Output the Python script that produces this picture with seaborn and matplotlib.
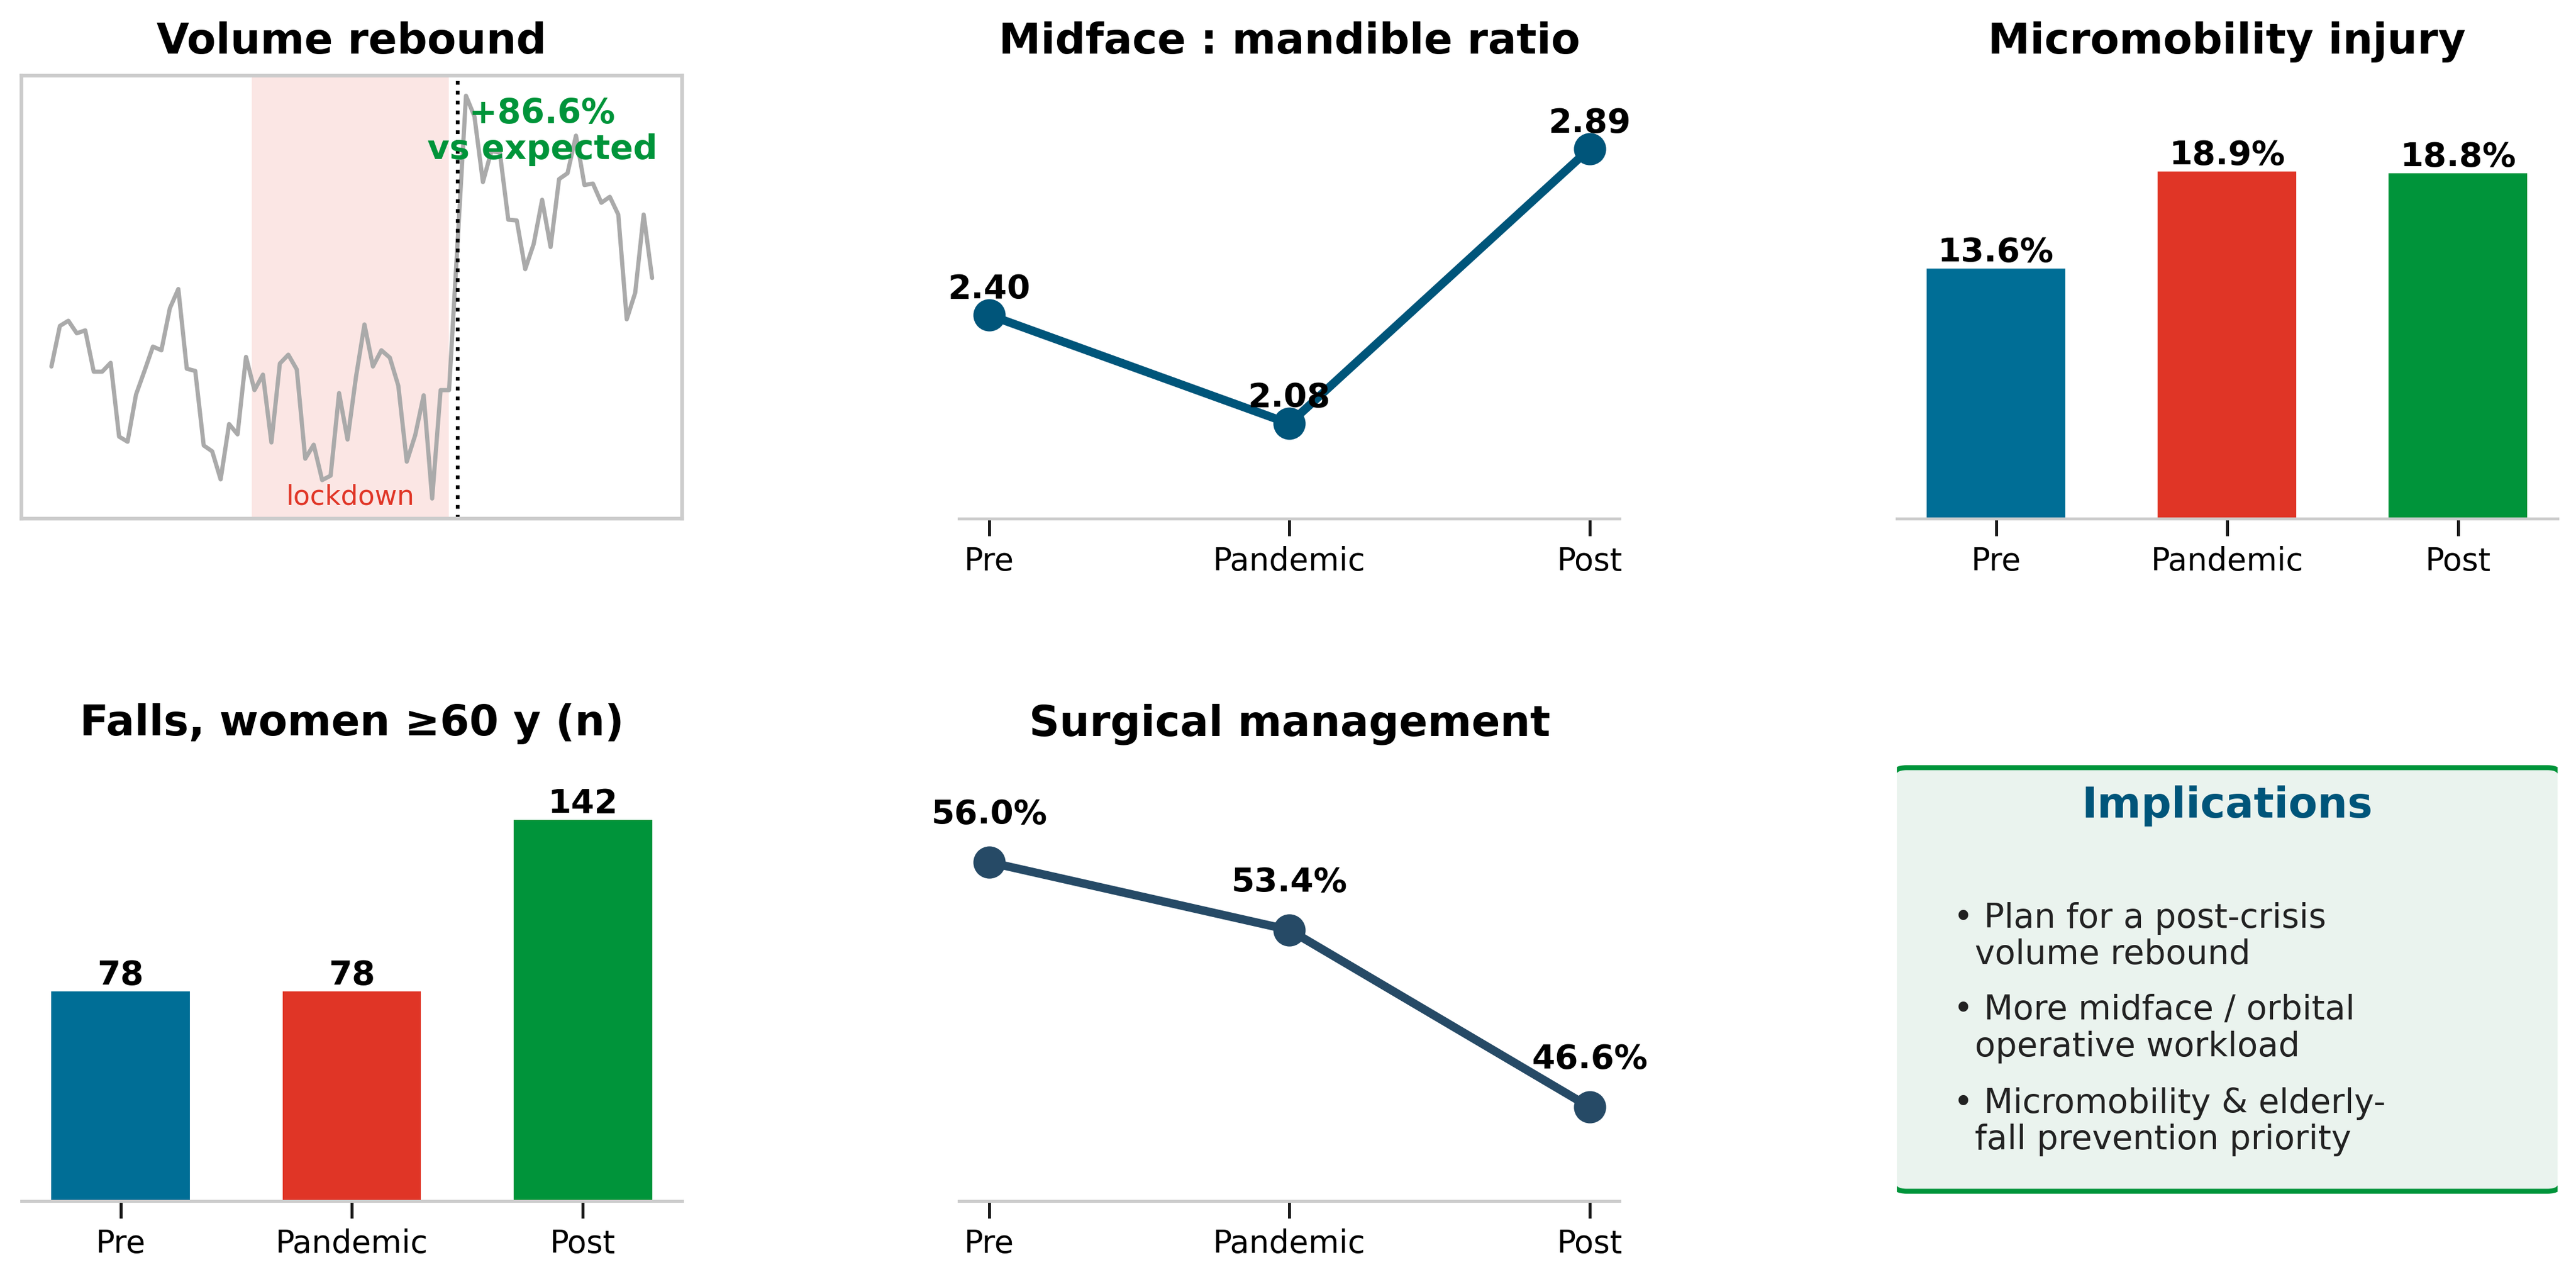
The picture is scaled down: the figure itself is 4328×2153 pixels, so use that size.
import matplotlib
matplotlib.use("Agg")
import matplotlib.pyplot as plt
import matplotlib.transforms as mtransforms
from matplotlib.patches import FancyBboxPatch
import pandas as pd
import seaborn as sns

# ---- data ----
periods = ["Pre", "Pandemic", "Post"]

# monthly case volume (relative units), 72 months
monthly_volume = [
    35.6, 41.1, 41.8, 40.1, 40.5, 34.9, 34.9, 36.1, 26.1, 25.4,
    31.8, 35.0, 38.3, 37.8, 43.5, 46.1, 35.3, 35.0, 24.9, 24.1,
    20.3, 27.8, 26.4, 36.9, 32.4, 34.5, 25.3, 36.0, 37.2, 35.2,
    23.1, 25.0, 20.2, 20.8, 32.0, 25.7, 34.2, 41.3, 35.6, 37.8,
    36.8, 33.0, 22.7, 26.3, 31.7, 17.7, 32.4, 32.4, 52.3, 72.3,
    69.5, 60.6, 64.8, 64.6, 55.5, 55.4, 48.8, 52.2, 58.2, 51.8,
    61.0, 61.8, 66.9, 60.2, 60.4, 57.8, 58.6, 56.2, 42.0, 45.6,
    56.2, 47.6,
]
lockdown_start = 23.7
lockdown_end = 47.0
reopening = 48
rebound_label = "+86.6%\nvs expected"

midface_ratio = [2.40, 2.08, 2.89]
micromobility_pct = [13.6, 18.9, 18.8]
falls_women60 = [78, 78, 142]
surgical_pct = [56.0, 53.4, 46.6]

implications = [
    "\u2022 Plan for a post-crisis\n  volume rebound",
    "\u2022 More midface / orbital\n  operative workload",
    "\u2022 Micromobility & elderly-\n  fall prevention priority",
]

# ---- style ----
BLUE = "#006e96"
RED = "#e03526"
GREEN = "#00943a"
LINE_BLUE = "#00557a"
SLATE = "#264a66"
SPINE = "#cccccc"
period_colors = [BLUE, RED, GREEN]

sns.set_theme(style="white")
plt.rcParams["font.family"] = ["DejaVu Sans"]
plt.rcParams["text.color"] = "black"
plt.rcParams["axes.titlecolor"] = "black"

TITLE_FS = 17
TICK_FS = 12.7
VALUE_FS = 13.5


def style_category_axis(ax):
    for side in ["top", "left", "right"]:
        ax.spines[side].set_visible(False)
    ax.spines["bottom"].set_color(SPINE)
    ax.spines["bottom"].set_linewidth(1.2)
    ax.set_yticks([])
    ax.set_xticks(range(len(periods)))
    ax.set_xticklabels(periods, fontsize=TICK_FS, color="black")
    ax.tick_params(axis="x", bottom=True, length=7, width=1.2, color="#1a1a1a", pad=4)
    ax.set_xlabel("")
    ax.set_ylabel("")


def bar_panel(ax, values, title, fmt, ymax):
    df = pd.DataFrame({"period": periods, "value": values})
    sns.barplot(data=df, x="period", y="value", hue="period", palette=period_colors,
                width=0.6, saturation=1, linewidth=0, legend=False, ax=ax)
    for i, v in enumerate(values):
        ax.text(i, v, fmt.format(v), ha="center", va="bottom",
                fontsize=VALUE_FS, fontweight="bold", color="black")
    ax.set_xlim(-0.43, 2.43)
    ax.set_ylim(0, ymax)
    style_category_axis(ax)
    ax.set_title(title, fontsize=TITLE_FS, fontweight="bold", pad=9, color="black")


def line_panel(ax, values, title, fmt, color, ylim, label_offset):
    df = pd.DataFrame({"x": range(len(periods)), "value": values})
    sns.lineplot(data=df, x="x", y="value", color=color, linewidth=3.4,
                 marker="o", markersize=13, markeredgewidth=0, ax=ax)
    for i, v in enumerate(values):
        ax.annotate(fmt.format(v), (i, v), xytext=(0, label_offset),
                    textcoords="offset points", ha="center", va="baseline",
                    fontsize=VALUE_FS, fontweight="bold", color="black")
    ax.set_xlim(-0.1, 2.1)
    ax.set_ylim(*ylim)
    style_category_axis(ax)
    ax.set_title(title, fontsize=TITLE_FS, fontweight="bold", pad=9, color="black")


fig, axes = plt.subplots(2, 3, figsize=(4328 / 300, 2153 / 300), dpi=300)
fig.subplots_adjust(left=0.0083, right=0.9928, top=0.941, bottom=0.0632,
                    wspace=0.419, hspace=0.540)

# panel 1: volume rebound
ax = axes[0, 0]
ts = pd.DataFrame({"month": range(len(monthly_volume)), "volume": monthly_volume})
ax.axvspan(lockdown_start, lockdown_end, color=RED, alpha=0.12, lw=0)
sns.lineplot(data=ts, x="month", y="volume", color="#aaaaaa", linewidth=1.7, ax=ax)
ax.axvline(reopening, color="black", ls=":", lw=1.5)
trans = mtransforms.blended_transform_factory(ax.transData, ax.transAxes)
ax.text((lockdown_start + lockdown_end) / 2, 0.018, "lockdown", transform=trans,
        ha="center", va="bottom", fontsize=11, color=RED)
ax.text(0.788, 0.95, rebound_label, transform=ax.transAxes, ha="center", va="top",
        fontsize=13.7, fontweight="bold", color=GREEN, linespacing=1.1)
ax.set_xticks([])
ax.set_yticks([])
ax.set_xlabel("")
ax.set_ylabel("")
for s in ax.spines.values():
    s.set_color(SPINE)
    s.set_linewidth(1.5)
ax.set_title("Volume rebound", fontsize=TITLE_FS, fontweight="bold", pad=9, color="black")

line_panel(axes[0, 1], midface_ratio, "Midface : mandible ratio", "{:.2f}",
           LINE_BLUE, (1.80, 3.105), 6.7)
bar_panel(axes[0, 2], micromobility_pct, "Micromobility injury", "{:.1f}%", 24.1)
bar_panel(axes[1, 0], falls_women60, "Falls, women \u226560 y (n)", "{:d}", 165)
line_panel(axes[1, 1], surgical_pct, "Surgical management", "{:.1f}%",
           SLATE, (43.0, 60.0), 15.6)

# panel 6: implications box (sides run past the axes and are clipped)
ax = axes[1, 2]
ax.set_xlim(0, 1)
ax.set_ylim(0, 1)
ax.axis("off")
box = FancyBboxPatch((-0.005, 0.022), 1.01, 0.956,
                     boxstyle="round,pad=0,rounding_size=0.02",
                     transform=ax.transAxes, facecolor="#eaf3ee",
                     edgecolor=GREEN, linewidth=2)
ax.add_patch(box)
box.set_clip_path(ax.patch)
ax.text(0.5, 0.892, "Implications", ha="center", va="center",
        fontsize=TITLE_FS, fontweight="bold", color=LINE_BLUE)
for y, line in zip([0.597, 0.389, 0.179], implications):
    ax.text(0.086, y, line, ha="left", va="center", fontsize=13.6,
            color="#222222", linespacing=1.15)

fig.savefig("out.png", dpi=300)
